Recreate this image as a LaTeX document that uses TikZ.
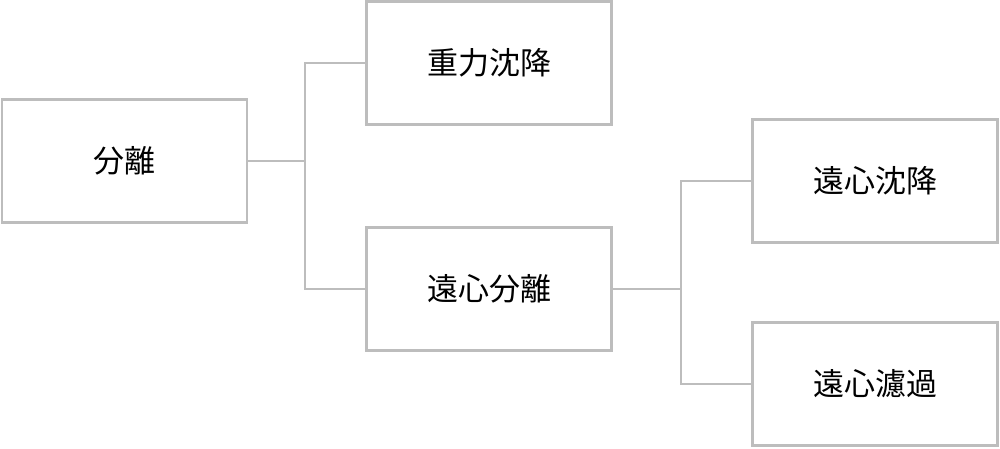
\documentclass[tikz,border=0pt]{standalone}
\usepackage{fontspec}
\setmainfont{Noto Sans CJK JP}
\begin{document}
\begin{tikzpicture}[x=1pt,y=-1pt,
  box/.style={draw=linegray,line width=2.5pt,fill=white,minimum width=245pt,minimum height=123pt,inner sep=0pt,font=\fontsize{31}{36}\selectfont,text=black},
  conn/.style={draw=linegray,line width=2.5pt}]
\definecolor{linegray}{HTML}{BDBDBD}
\useasboundingbox (0,0) rectangle (1000,448);
\node[box] (A) at (124.5,161) {分離};
\node[box] (B) at (489,63) {重力沈降};
\node[box] (C) at (489,289) {遠心分離};
\node[box] (D) at (875,181) {遠心沈降};
\node[box] (E) at (875,384) {遠心濾過};
\coordinate (j1) at (305,161);
\coordinate (j2) at (681,289);
\draw[conn] (A.east) -- (j1);
\draw[conn] (B.west) -| (j1) |- (C.west);
\draw[conn] (C.east) -- (j2);
\draw[conn] (D.west) -| (j2) |- (E.west);
\end{tikzpicture}
\end{document}
